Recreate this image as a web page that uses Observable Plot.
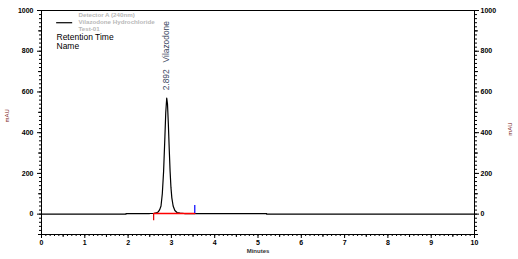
<!DOCTYPE html>
<html>
<head>
<meta charset="utf-8">
<script src="https://cdn.jsdelivr.net/npm/d3@7"></script>
<script src="https://cdn.jsdelivr.net/npm/@observablehq/plot@0.6"></script>
<style>
  html, body { margin: 0; padding: 0; background: #fff; }
  #chart { width: 518px; height: 259px; }
</style>
</head>
<body>
<div id="chart"></div>
<script>
// Chromatogram trace (minutes, mAU)
const traceTime = [0, 1.95, 1.95, 2.5, 2.6, 2.65, 2.7, 2.73, 2.76, 2.79, 2.82, 2.85, 2.87, 2.892, 2.91, 2.93, 2.95, 2.97, 2.99, 3.01, 3.04, 3.08, 3.13, 3.2, 3.3, 5.2, 5.2, 10];
const traceMAU  = [0, 0, 3, 3, 4, 6, 12, 22, 40, 100, 210, 380, 500, 570, 540, 440, 320, 210, 130, 80, 40, 18, 8, 5, 3, 3, 0, 0];

// Integration baseline and peak start/end markers
const baselineTime = [2.59, 3.54];
const baselineMAU = [3, 3];
const peakStart = {t: 2.59, y1: 3, y2: -32};
const peakEnd = {t: 3.54, y1: 3, y2: 42};

// Peak annotation
const peakRT = "2.892";
const peakName = "Vilazodone";
const peakLabelY = 608;

// Axes
const xMajor = d3.range(0, 11, 1);
const xMinor = d3.range(0, 10.01, 0.1).map(v => +v.toFixed(1));
const xMid = d3.range(0.5, 10, 1);
const yMajor = [0, 200, 400, 600, 800, 1000];
const yMid = [-100, 100, 300, 500, 700, 900];
const yMinor = d3.range(-100, 1001, 20);

// Legend texts
const legendLines = ["Detector A (240nm)", "Vilazodone Hydrochloride", "Test-01"];
const legendLabels = ["Retention Time", "Name"];
const legendSwatch = [{x1: 0.35, x2: 0.72, y: 940}];

const trace = traceTime.map((t, i) => ({t, y: traceMAU[i]}));
const baseline = baselineTime.map((t, i) => ({t, y: baselineMAU[i]}));

const blank = () => "";
const plot = Plot.plot({
  width: 518,
  height: 259,
  marginLeft: 41,
  marginRight: 44,
  marginTop: 10,
  marginBottom: 25,
  style: {fontFamily: "Liberation Sans, Arial, sans-serif", fontSize: "7px", background: "#fff", color: "#000"},
  x: {domain: [0, 10]},
  y: {domain: [-100, 1000]},
  marks: [
    Plot.frame({stroke: "#000", strokeWidth: 1}),
    // left axis
    Plot.axisY({anchor: "left", ticks: yMinor, tickSize: 2, tickFormat: blank, label: null}),
    Plot.axisY({anchor: "left", ticks: yMid, tickSize: 3, tickFormat: blank, label: null}),
    Plot.axisY({anchor: "left", ticks: yMajor, tickSize: 4, tickPadding: 4, tickFormat: d => String(d), label: null, fontWeight: "bold"}),
    // right axis
    Plot.axisY({anchor: "right", ticks: yMinor, tickSize: 2, tickFormat: blank, label: null}),
    Plot.axisY({anchor: "right", ticks: yMid, tickSize: 3, tickFormat: blank, label: null}),
    Plot.axisY({anchor: "right", ticks: yMajor, tickSize: 4, tickPadding: 2, tickFormat: d => String(d), label: null, fontWeight: "bold"}),
    // bottom axis
    Plot.axisX({anchor: "bottom", ticks: xMinor, tickSize: 2, tickFormat: blank, label: null}),
    Plot.axisX({anchor: "bottom", ticks: xMid, tickSize: 3, tickFormat: blank, label: null}),
    Plot.axisX({anchor: "bottom", ticks: xMajor, tickSize: 4, tickPadding: 2, tickFormat: d => String(d), label: null, fontWeight: "bold"}),
    // axis titles
    Plot.text(["mAU"], {frameAnchor: "left", dx: -34, rotate: -90, fill: "#7a2020", fontSize: 6}),
    Plot.text(["mAU"], {frameAnchor: "right", dx: 36, rotate: -90, fill: "#7a2020", fontSize: 6}),
    Plot.text(["Minutes"], {frameAnchor: "bottom", dy: 18, fill: "#333", fontSize: 6, fontWeight: "bold"}),
    // trace
    Plot.line(trace, {x: "t", y: "y", stroke: "#000", strokeWidth: 1.2, curve: "linear"}),
    // integration baseline and markers
    Plot.line(baseline, {x: "t", y: "y", stroke: "#ff0000", strokeWidth: 1.6}),
    Plot.ruleX([peakStart], {x: "t", y1: "y1", y2: "y2", stroke: "#e00000", strokeWidth: 1.2}),
    Plot.ruleX([peakEnd], {x: "t", y1: "y1", y2: "y2", stroke: "#0000ff", strokeWidth: 1.2}),
    // peak label
    Plot.text([peakRT + "   " + peakName], {x: () => 2.892, y: () => peakLabelY, rotate: -90, textAnchor: "start", fill: "#3a4660", fontSize: 8.4}),
    // legend
    Plot.ruleY(legendSwatch, {x1: "x1", x2: "x2", y: "y", stroke: "#000", strokeWidth: 1.2}),
    ...legendLines.map((d, i) => Plot.text([d], {frameAnchor: "top-left", dx: 37, dy: 2 + i * 7.2, fill: "#b8b8b8", fontSize: 6.2, fontWeight: "bold", textAnchor: "start"})),
    ...legendLabels.map((d, i) => Plot.text([d], {frameAnchor: "top-left", dx: 15, dy: 23.5 + i * 9.2, fill: "#000", fontSize: 8.5, textAnchor: "start"}))
  ]
});
document.getElementById("chart").appendChild(plot);
</script>
</body>
</html>
